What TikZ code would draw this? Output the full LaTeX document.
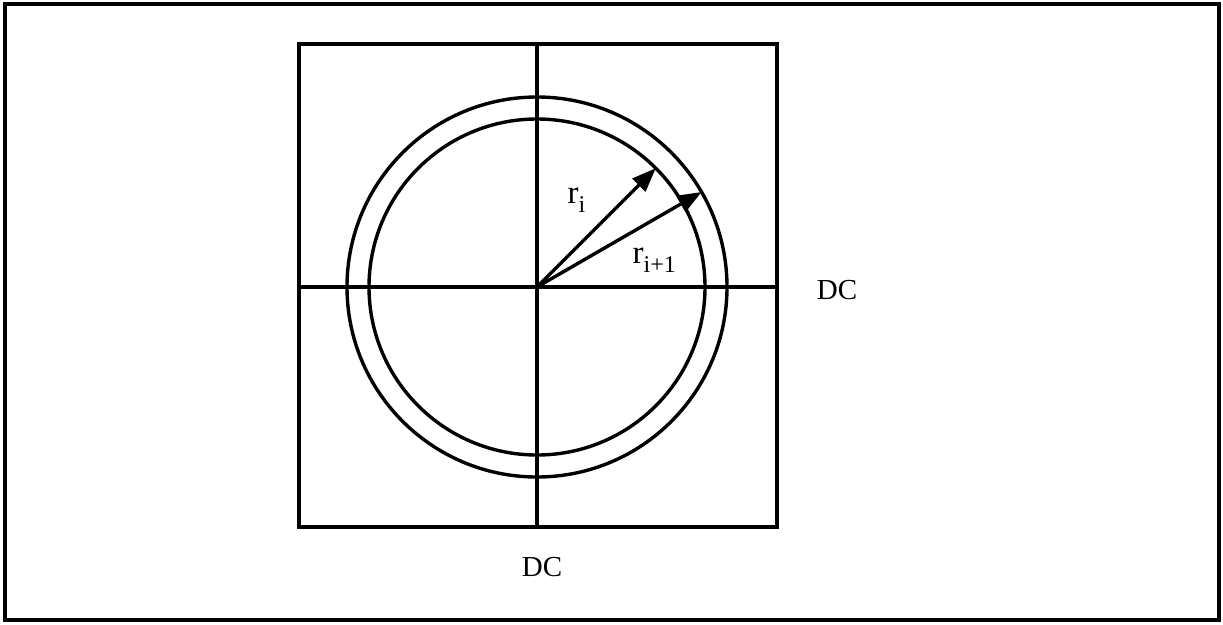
\documentclass[tikz,border=0pt]{standalone}
\usepackage{fontspec}
\setmainfont{Liberation Serif}
\usetikzlibrary{arrows.meta}
\begin{document}
\begin{tikzpicture}[x=1pt,y=-1pt,line width=3.4pt,
  ring/.style={circle,draw,outer sep=0pt,inner sep=0pt},
  lbl/.style={inner sep=0pt,font=\fontsize{29}{34}\selectfont},
  rlbl/.style={inner sep=0pt,font=\fontsize{33}{38}\selectfont},
  vec/.style={-{Triangle[length=24pt,width=18pt]}}]
\useasboundingbox (0,0) rectangle (1223,624);
\node[draw,rectangle,minimum width=1214pt,minimum height=616pt,outer sep=0pt,inner sep=0pt] (frame) at (612,312) {};
\node[draw,rectangle,minimum width=478pt,minimum height=483pt,outer sep=0pt,inner sep=0pt] (sq) at (538,285.5) {};
\coordinate (c) at (537,287);
\draw (sq.west |- c) -- (sq.east |- c);
\draw (sq.north -| c) -- (sq.south -| c);
\node[ring,minimum size=380pt] (outer) at (c) {};
\node[ring,minimum size=336pt] (inner) at (c) {};
\draw[vec] (c) -- (inner.45);
\draw[vec] (c) -- (outer.30);
\node[rlbl,anchor=base west] (ri) at (566,203) {r\lower9pt\hbox{\fontsize{24}{24}\selectfont i}};
\node[rlbl,anchor=base west] (rii) at (631,263) {r\lower9pt\hbox{\fontsize{24}{24}\selectfont i+1}};
\node[lbl] (dc1) at (837,290) {DC};
\node[lbl] (dc2) at (542,567) {DC};
\end{tikzpicture}
\end{document}
